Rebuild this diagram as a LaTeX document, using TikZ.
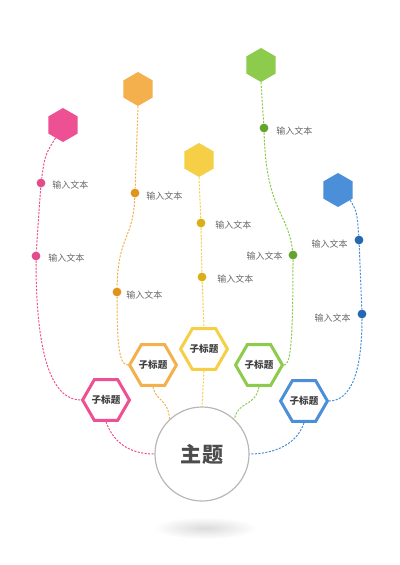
\documentclass[tikz,border=0pt]{standalone}
\usepackage{fontspec}
\setmainfont{Noto Sans CJK SC}
\usetikzlibrary{shapes.geometric}
\definecolor{pinkc}{HTML}{EE5094}
\definecolor{pinkd}{HTML}{E24C8C}
\definecolor{orangec}{HTML}{F3B04D}
\definecolor{oranged}{HTML}{E0941C}
\definecolor{yellowc}{HTML}{F5CF45}
\definecolor{yellowd}{HTML}{D9AE16}
\definecolor{greenc}{HTML}{8CCB4C}
\definecolor{greend}{HTML}{63A52C}
\definecolor{bluec}{HTML}{4A8FD8}
\definecolor{blued}{HTML}{2667B2}
\tikzset{
  tophex/.style={regular polygon, regular polygon sides=6, shape border rotate=30, minimum size=0.85cm, inner sep=0pt, fill=#1},
  subhex/.style={regular polygon, regular polygon sides=6, minimum size=0.97cm, inner sep=0pt, draw=#1, line width=0.75mm, fill=white, font=\bfseries\fontsize{6.8}{7}\selectfont, text=black!75},
  dotnode/.style={circle, minimum size=0.22cm, inner sep=0pt, fill=#1},
  lbl/.style={inner sep=0pt, font=\fontsize{6.4}{7}\selectfont, text=black!60},
  link/.style={draw=#1, line width=0.25mm, dash pattern=on 1.5pt off 1pt},
}

\begin{document}
\begin{tikzpicture}[x=0.025cm, y=-0.025cm]
			%%%%% START %%%%%
			\useasboundingbox (0, 0) rectangle (400, 565);
			
			\shade[inner color=black!14, outer color=white] (205, 528) ellipse (52 and 11);
			\node[circle, draw=black!28, line width=0.3mm, fill=white, minimum size=2.35cm, font=\bfseries\fontsize{15}{16}\selectfont, text=black!70] (main) at (202, 454) {主题};
			
			% pink
			\node[tophex=pinkc] (ptop) at (63, 125) {};
			\node[dotnode=pinkd] (p1) at (41, 183) {};
			\node[dotnode=pinkd] (p2) at (36, 256) {};
			\node[subhex=pinkc] (psub) at (106, 400) {子标题};
			\node[lbl, anchor=west] (pl1) at (52, 185) {输入文本};
			\node[lbl, anchor=west] (pl2) at (48, 258) {输入文本};
			\draw[link=pinkc] (ptop.240) .. controls (45, 155) .. (p1);
			\draw[link=pinkc] (p1) -- (p2);
			\draw[link=pinkc] (p2) .. controls (36, 365) and (55, 400) .. (psub.west);
			\draw[link=pinkc] (psub.south) .. controls (115, 447) and (135, 454) .. (main.west);
			
			% orange
			\node[tophex=orangec] (otop) at (138, 89) {};
			\node[dotnode=oranged] (o1) at (135, 193) {};
			\node[dotnode=oranged] (o2) at (117, 292) {};
			\node[subhex=orangec] (osub) at (153, 365) {子标题};
			\node[lbl, anchor=west] (ol1) at (146, 196) {输入文本};
			\node[lbl, anchor=west] (ol2) at (126, 295) {输入文本};
			\draw[link=orangec] (otop.south) -- (o1);
			\draw[link=orangec] (o1) .. controls (133, 240) and (118, 235) .. (o2);
			\draw[link=orangec] (o2) .. controls (117, 350) and (120, 365) .. (osub.west);
			\draw[link=orangec] (osub.south) .. controls (156, 402) and (168, 398) .. (main.133);
			
			% yellow
			\node[tophex=yellowc] (ytop) at (199, 160) {};
			\node[dotnode=yellowd] (y1) at (201, 223) {};
			\node[dotnode=yellowd] (y2) at (202, 277) {};
			\node[subhex=yellowc] (ysub) at (204, 349) {子标题};
			\node[lbl, anchor=west] (yl1) at (215, 225) {输入文本};
			\node[lbl, anchor=west] (yl2) at (217, 279) {输入文本};
			\draw[link=yellowc] (ytop.south) -- (y1) -- (y2) -- (ysub.north);
			\draw[link=yellowc] (ysub.south) -- (main.north);
			
			% green
			\node[tophex=greenc] (gtop) at (261, 65) {};
			\node[dotnode=greend] (g1) at (264, 128) {};
			\node[dotnode=greend] (g2) at (293, 255) {};
			\node[subhex=greenc] (gsub) at (259, 365) {子标题};
			\node[lbl, anchor=west] (gl1) at (276, 131) {输入文本};
			\node[lbl, anchor=east] (gl2) at (283, 256) {输入文本};
			\draw[link=greenc] (gtop.south) -- (g1);
			\draw[link=greenc] (g1) .. controls (266, 210) and (288, 212) .. (g2);
			\draw[link=greenc] (g2) .. controls (293, 348) and (290, 365) .. (gsub.east);
			\draw[link=greenc] (gsub.south) .. controls (255, 408) and (238, 400) .. (main.47);
			
			% blue
			\node[tophex=bluec] (btop) at (338, 190) {};
			\node[dotnode=blued] (b1) at (359, 240) {};
			\node[dotnode=blued] (b2) at (362, 314) {};
			\node[subhex=bluec] (bsub) at (304, 401) {子标题};
			\node[lbl, anchor=east] (bl1) at (348, 244) {输入文本};
			\node[lbl, anchor=east] (bl2) at (351, 318) {输入文本};
			\draw[link=bluec] (btop.320) .. controls (357, 212) .. (b1);
			\draw[link=bluec] (b1) -- (b2);
			\draw[link=bluec] (b2) .. controls (362, 385) and (345, 401) .. (bsub.east);
			\draw[link=bluec] (bsub.south) .. controls (296, 447) and (270, 454) .. (main.east);
			
			%%%%% END %%%%%
		\end{tikzpicture}
\end{document}
